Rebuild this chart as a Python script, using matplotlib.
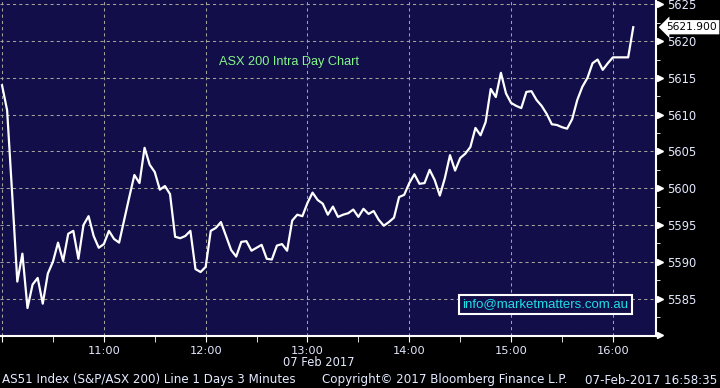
import numpy as np
import matplotlib
matplotlib.use("Agg")
import matplotlib.pyplot as plt
from matplotlib.ticker import MultipleLocator
from matplotlib.transforms import ScaledTranslation

# AS51 (S&P/ASX 200) intraday, 3 minute bars from 10:00, 07 Feb 2017
bar_minutes = 3
prices = [5614.0, 5610.6, 5599.1, 5587.3, 5591.1, 5583.7, 5586.9, 5587.8, 5584.3, 5588.4,
          5590.0, 5592.6, 5590.1, 5593.8, 5594.2, 5590.4, 5595.0, 5596.2, 5593.5, 5591.9,
          5592.4, 5594.2, 5593.1, 5592.6, 5595.7, 5598.8, 5601.8, 5600.7, 5605.5, 5603.2,
          5602.2, 5599.8, 5600.3, 5599.2, 5593.4, 5593.2, 5593.5, 5594.2, 5589.0, 5588.6,
          5589.3, 5594.2, 5594.6, 5595.4, 5593.5, 5591.6, 5590.7, 5592.7, 5592.8, 5591.5,
          5591.9, 5592.3, 5590.4, 5590.3, 5592.2, 5592.4, 5591.5, 5595.6, 5596.4, 5596.2,
          5598.0, 5599.4, 5598.4, 5597.9, 5596.4, 5597.5, 5596.1, 5596.4, 5596.6, 5597.1,
          5596.1, 5597.2, 5596.5, 5596.9, 5595.7, 5594.9, 5595.4, 5596.0, 5598.8, 5599.1,
          5600.7, 5601.9, 5600.6, 5600.7, 5602.5, 5601.1, 5599.0, 5601.4, 5604.5, 5602.4,
          5604.1, 5604.7, 5605.6, 5608.2, 5607.2, 5609.0, 5613.5, 5612.4, 5615.7, 5612.9,
          5611.6, 5611.2, 5610.9, 5613.1, 5613.2, 5612.0, 5611.2, 5610.1, 5608.7, 5608.6,
          5608.3, 5608.1, 5609.4, 5612.0, 5613.8, 5615.0, 5617.0, 5617.5, 5616.1, 5617.0,
          5617.8, 5617.8, 5617.8, 5617.8, 5621.9]

# minutes after 10:00
hour_ticks = [0, 60, 120, 180, 240, 300, 360]
hour_labels = ["", "11:00", "12:00", "13:00", "14:00", "15:00", "16:00"]
price_ticks = [5580, 5585, 5590, 5595, 5600, 5605, 5610, 5615, 5620, 5625]
price_labels = ["", "5585", "5590", "5595", "5600", "5605", "5610", "5615", "5620", "5625"]

bg = "#110e49"
txt = "#e4eaff"
grid_col = "#a4a39a"

minutes = np.arange(len(prices)) * bar_minutes

fig = plt.figure(figsize=(7.2, 3.88), dpi=100, facecolor="black")
ax = fig.add_axes([0, 52 / 388, 656 / 720, 336 / 388], facecolor=bg)

ax.plot(minutes, prices, color="white", lw=1.6, zorder=3)

ax.set_xlim(-1.2, 385.4)
ax.set_ylim(5579.9, 5625.6)

ax.set_xticks(hour_ticks, hour_labels)
ax.xaxis.set_minor_locator(MultipleLocator(30))
ax.yaxis.tick_right()
ax.set_yticks(price_ticks, price_labels)
ax.yaxis.set_minor_locator(MultipleLocator(2.5))

ax.grid(True, which="major", color=grid_col, ls=(0, (3, 3)), lw=0.75)

for s in ["left", "top"]:
    ax.spines[s].set_visible(False)
for s in ["bottom", "right"]:
    ax.spines[s].set_color("white")
    ax.spines[s].set_linewidth(1.5)

ax.tick_params(axis="x", which="both", direction="out", length=4, color="white",
               labelcolor=txt, labelsize=8.2, pad=3)
ax.tick_params(axis="y", which="major", length=0, labelcolor=txt, labelsize=8.3, pad=8)
ax.tick_params(axis="y", which="minor", direction="out", length=3, color="white")

# Bloomberg style arrow heads on the price axis
arrow_tr = ax.get_yaxis_transform() + ScaledTranslation(0.035, 0, fig.dpi_scale_trans)
ax.plot([1] * len(price_ticks), price_ticks, ls="none", marker=">", ms=5,
        color="white", clip_on=False, transform=arrow_tr)

# last price tag
ax.annotate(f"{prices[-1]:.3f}", xy=(1, prices[-1]), xycoords=("axes fraction", "data"),
            xytext=(7.5, 0), textcoords="offset points", ha="left", va="center",
            fontsize=7.7, color="black", annotation_clip=False,
            bbox=dict(boxstyle="larrow,pad=0.2", fc="white", ec="none"))

ax.text(0.334, 0.815, "ASX 200 Intra Day Chart", transform=ax.transAxes,
        color="#86f58a", fontsize=9.2, family="Liberation Sans", ha="left", va="center")
ax.text(0.8316, 0.094, "info@marketmatters.com.au", transform=ax.transAxes,
        color="#1fdde8", fontsize=9.5, family="Liberation Sans", ha="center", va="center",
        bbox=dict(boxstyle="square,pad=0.25", fc=bg, ec="white", lw=1.5))

fig.text(319 / 720, 1 - 362 / 388, "07 Feb 2017", color=txt, fontsize=8.3,
         ha="center", va="center")
fig.text(2 / 720, 1 - 380 / 388, "AS51 Index (S&P/ASX 200) Line 1 Days 3 Minutes",
         color=txt, fontsize=8.6, ha="left", va="center")
fig.text(322 / 720, 1 - 380 / 388, "Copyright\u00a9 2017 Bloomberg Finance L.P.",
         color=txt, fontsize=8.6, ha="left", va="center")
fig.text(717 / 720, 1 - 380 / 388, "07-Feb-2017 16:58:35",
         color=txt, fontsize=8.6, ha="right", va="center")

fig.savefig("out.png", dpi=100, facecolor="black")
